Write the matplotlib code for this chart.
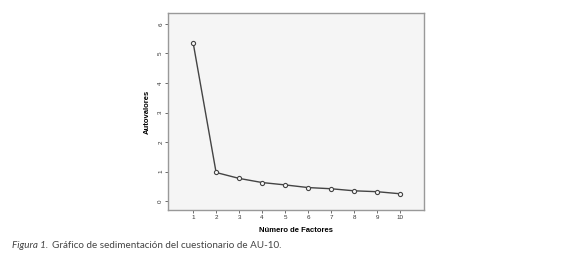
import matplotlib
matplotlib.use("Agg")
import matplotlib.pyplot as plt

# datos del grafico de sedimentacion
factores = [1, 2, 3, 4, 5, 6, 7, 8, 9, 10]
autovalores = [5.37, 0.97, 0.77, 0.63, 0.55, 0.46, 0.42, 0.35, 0.32, 0.25]
yticks = [0, 1, 2, 3, 4, 5, 6]

fig = plt.figure(figsize=(5.8, 2.64), dpi=100)
ax = fig.add_axes([0.2897, 0.2045, 0.4414, 0.7463])
ax.set_facecolor("#f5f5f5")

ax.plot(factores, autovalores, color="#444444", lw=1.0,
        marker="o", markersize=3.0, markerfacecolor="#f5f5f5",
        markeredgecolor="#444444", markeredgewidth=0.8)

ax.set_xlim(-0.09, 11.04)
ax.set_ylim(-0.3, 6.37)
ax.set_xticks(factores)
ax.set_yticks(yticks)
ax.set_xticklabels([str(f) for f in factores], fontsize=4.5, color="#333333",
                   family="Liberation Sans")
ax.set_yticklabels([str(t) for t in yticks], fontsize=4.5, color="#333333",
                   rotation=90, va="center", family="Liberation Sans")
ax.tick_params(length=2, width=0.6, color="#555555", pad=1.5)
for s in ax.spines.values():
    s.set_color("#999999")
    s.set_linewidth(1.0)

ax.set_xlabel("Número de Factores", fontsize=5.5, fontweight="bold", labelpad=5,
              family="Liberation Sans")
ax.set_ylabel("Autovalores", fontsize=5.5, fontweight="bold", labelpad=5,
              family="Liberation Sans")

fig.text(0.021, 0.062, "Figura 1.", fontsize=7.1, style="italic",
         family="Lato", color="#444444")
fig.text(0.089, 0.062, "Gráfico de sedimentación del cuestionario de AU-10.",
         fontsize=7.1, family="Lato", color="#444444")

fig.savefig("out.png", dpi=100)
